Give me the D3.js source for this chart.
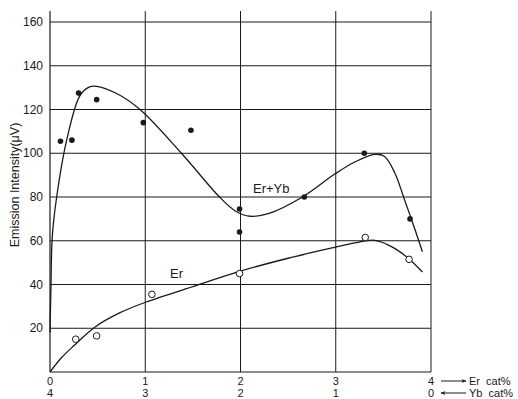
<!DOCTYPE html>
<html>
<head>
<meta charset="utf-8">
<script src="https://cdn.jsdelivr.net/npm/d3@7"></script>
<style>
  body { margin: 0; background: #fff; }
  text { font-family: "Liberation Sans", Arial, sans-serif; fill: #1a1a1a; }
</style>
</head>
<body>
<div id="chart"></div>
<script>
// measured points, Er+Yb (filled dots)
var erYbX = [0.11, 0.23, 0.30, 0.49, 0.98, 1.48, 1.99, 1.99, 2.67, 3.30, 3.78];
var erYbY = [105.5, 106, 127.5, 124.5, 114, 110.5, 74.5, 64, 80, 100, 70];
// measured points, Er only (open circles)
var erX = [0.27, 0.49, 1.07, 1.99, 3.31, 3.77];
var erY = [15, 16.5, 35.5, 45, 61.5, 51.5];

// hand drawn fit curves
var erYbCurveX = [0, 0.01, 0.024, 0.07, 0.175, 0.31, 0.40, 0.49, 0.70, 0.945, 1.38, 1.78, 1.95, 2.10, 2.30, 2.65, 2.99, 3.20, 3.41, 3.51, 3.62, 3.72, 3.82, 3.91];
var erYbCurveY = [18, 39, 62, 80, 106, 126, 130, 130.6, 127.3, 120, 100, 80, 73.5, 71.2, 72.5, 80, 90.5, 96, 99.5, 98.6, 91, 79, 66.6, 55];
var erCurveX = [0, 0.12, 0.25, 0.47, 0.73, 1.01, 1.54, 1.99, 2.50, 2.99, 3.20, 3.41, 3.60, 3.77, 3.91];
var erCurveY = [0, 6.5, 12, 20.5, 27, 32, 39.6, 46, 52, 57, 59, 60.2, 57, 51.7, 45.7];

var xTicksEr = [0, 1, 2, 3, 4];
var xTicksYb = ["4", "3", "2", "1", "0"];
var yTicks = [20, 40, 60, 80, 100, 120, 140, 160];

var W = 518, H = 399;
var ink = "#1a1a1a";

var svg = d3.select("#chart").append("svg")
  .attr("width", W).attr("height", H);

var x = d3.scaleLinear().domain([0, 4]).range([50, 431]);
var y = d3.scaleLinear().domain([0, 160]).range([372, 22]);

// grid
svg.append("g").selectAll("line")
  .data(yTicks)
  .join("line")
  .attr("x1", x(0)).attr("x2", x(4))
  .attr("y1", d => y(d)).attr("y2", d => y(d))
  .attr("stroke", ink).attr("stroke-width", 1);

svg.append("g").selectAll("line")
  .data(xTicksEr)
  .join("line")
  .attr("x1", d => x(d)).attr("x2", d => x(d))
  .attr("y1", y(0)).attr("y2", y(165))
  .attr("stroke", ink).attr("stroke-width", d => d == 0 ? 1.2 : 1);

// x axis line
svg.append("line")
  .attr("x1", x(0)).attr("x2", x(4))
  .attr("y1", y(0)).attr("y2", y(0))
  .attr("stroke", ink).attr("stroke-width", 1.2);

// y tick labels
svg.append("g").selectAll("text")
  .data(yTicks)
  .join("text")
  .attr("x", 43)
  .attr("y", d => y(d))
  .attr("dy", "0.35em")
  .attr("text-anchor", "end")
  .attr("font-size", 12)
  .text(d => d);

// x tick labels, two rows
svg.append("g").selectAll("text")
  .data(xTicksEr)
  .join("text")
  .attr("x", d => x(d))
  .attr("y", 385)
  .attr("text-anchor", "middle")
  .attr("font-size", 11)
  .text(d => d);

svg.append("g").selectAll("text")
  .data(xTicksYb)
  .join("text")
  .attr("x", (d, i) => x(xTicksEr[i]))
  .attr("y", 397)
  .attr("text-anchor", "middle")
  .attr("font-size", 11)
  .text(d => d);

// arrows for the two scales
var defs = svg.append("defs");
defs.append("marker")
  .attr("id", "head")
  .attr("viewBox", "0 0 10 10")
  .attr("refX", 9).attr("refY", 5)
  .attr("markerWidth", 7).attr("markerHeight", 5)
  .attr("orient", "auto-start-reverse")
  .append("path")
  .attr("d", "M0,1 L10,5 L0,9 L3,5 Z")
  .attr("fill", ink);

svg.append("line")
  .attr("x1", 441).attr("x2", 466)
  .attr("y1", 381).attr("y2", 381)
  .attr("stroke", ink).attr("marker-end", "url(#head)");
svg.append("line")
  .attr("x1", 441).attr("x2", 466)
  .attr("y1", 393).attr("y2", 393)
  .attr("stroke", ink).attr("marker-start", "url(#head)");

svg.append("text")
  .attr("x", 469).attr("y", 385)
  .attr("font-size", 11)
  .attr("xml:space", "preserve")
  .text("Er  cat%");
svg.append("text")
  .attr("x", 469).attr("y", 397)
  .attr("font-size", 11)
  .attr("xml:space", "preserve")
  .text("Yb  cat%");

// y axis title
svg.append("text")
  .attr("transform", "translate(19,185) rotate(-90)")
  .attr("text-anchor", "middle")
  .attr("font-size", 12.5)
  .text("Emission Intensity(μV)");

// fit curves
var line = d3.line()
  .x(d => x(d[0]))
  .y(d => y(d[1]))
  .curve(d3.curveCatmullRom.alpha(0.5));

svg.append("path")
  .datum(erYbCurveX.map((v, i) => [v, erYbCurveY[i]]))
  .attr("d", line)
  .attr("fill", "none")
  .attr("stroke", ink)
  .attr("stroke-width", 1.3);

svg.append("path")
  .datum(erCurveX.map((v, i) => [v, erCurveY[i]]))
  .attr("d", line)
  .attr("fill", "none")
  .attr("stroke", ink)
  .attr("stroke-width", 1.3);

// points
svg.append("g").selectAll("circle")
  .data(erYbX.map((v, i) => [v, erYbY[i]]))
  .join("circle")
  .attr("cx", d => x(d[0]))
  .attr("cy", d => y(d[1]))
  .attr("r", 2.8)
  .attr("fill", ink);

svg.append("g").selectAll("circle")
  .data(erX.map((v, i) => [v, erY[i]]))
  .join("circle")
  .attr("cx", d => x(d[0]))
  .attr("cy", d => y(d[1]))
  .attr("r", 3.3)
  .attr("fill", "#fff")
  .attr("stroke", ink)
  .attr("stroke-width", 1);

// curve labels
svg.append("text")
  .attr("x", 253).attr("y", 193)
  .attr("font-size", 13)
  .text("Er+Yb");
svg.append("text")
  .attr("x", 170).attr("y", 278)
  .attr("font-size", 13)
  .text("Er");
</script>
</body>
</html>
